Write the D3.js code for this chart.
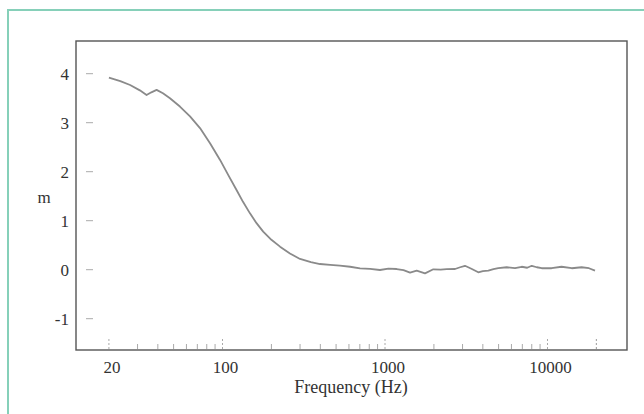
<!DOCTYPE html>
<html>
<head>
<meta charset="utf-8">
<script src="https://cdn.jsdelivr.net/npm/d3@7"></script>
<style>
  body { margin: 0; background: #fff; }
  svg { display: block; }
  text { font-family: "Liberation Serif", "DejaVu Serif", serif; fill: #333; }
</style>
</head>
<body>
<div id="chart"></div>
<script>
const freqs = [20, 23.5, 27, 31, 34.1, 36.5, 39.3, 43, 47.5, 54.7, 63.1, 72.7, 83.8, 96.6, 109, 122, 134,
  147.6, 162, 178, 200, 226, 260, 300, 350, 398, 460, 528, 610, 702, 810, 931, 1050, 1180, 1300, 1426,
  1567, 1763, 1983, 2200, 2396, 2698, 2900, 3106, 3400, 3750, 4000, 4323, 4650, 4980, 5610, 6310, 6940,
  7500, 8000, 8600, 9210, 10600, 12200, 14100, 16200, 18000, 19600];
const values = [3.92, 3.85, 3.77, 3.66, 3.565, 3.62, 3.67, 3.6, 3.5, 3.33, 3.13, 2.89, 2.58, 2.24, 1.92,
  1.627, 1.38, 1.15, 0.95, 0.776, 0.61, 0.47, 0.33, 0.22, 0.155, 0.116, 0.1, 0.082, 0.06, 0.029, 0.015,
  -0.006, 0.02, 0.014, -0.01, -0.06, -0.02, -0.074, 0.008, 0.0, 0.01, 0.014, 0.05, 0.08, 0.02, -0.053,
  -0.03, -0.02, 0.01, 0.03, 0.05, 0.03, 0.06, 0.04, 0.08, 0.05, 0.03, 0.03, 0.06, 0.03, 0.05, 0.03, -0.02];

const yTicks = [-1, 0, 1, 2, 3, 4];
const xTickLabels = [20, 100, 1000, 10000];

const width = 644, height = 414;
const box = { left: 76, top: 41, right: 627, bottom: 350 };

const svg = d3.select("#chart").append("svg")
  .attr("width", width)
  .attr("height", height);

// green frame of the scanned page
svg.append("path")
  .attr("d", `M8,${height} L8,10 L${width},10`)
  .attr("fill", "none")
  .attr("stroke", "#86d0b9")
  .attr("stroke-width", 2);

const x = d3.scaleLog().domain([10, 100000]).range([385 - 2 * 162.5, 385 + 2 * 162.5]);
const y = d3.scaleLinear().domain([0, 4]).range([269.7, 269.7 - 4 * 49]);

// plot box
svg.append("rect")
  .attr("x", box.left).attr("y", box.top)
  .attr("width", box.right - box.left).attr("height", box.bottom - box.top)
  .attr("fill", "none")
  .attr("stroke", "#555")
  .attr("stroke-width", 1.4);

// y ticks: short dashes sitting a bit inside the axis
svg.append("g").selectAll("line")
  .data(yTicks)
  .join("line")
  .attr("x1", 86).attr("x2", 93)
  .attr("y1", (d) => y(d)).attr("y2", (d) => y(d))
  .attr("stroke", "#aaa")
  .attr("stroke-width", 1);

svg.append("g").selectAll("text")
  .data(yTicks)
  .join("text")
  .attr("x", 69)
  .attr("y", (d) => y(d))
  .attr("dy", "0.35em")
  .attr("text-anchor", "end")
  .style("font-size", "17px")
  .text((d) => d);

svg.append("text")
  .attr("x", 44).attr("y", 197)
  .attr("dy", "0.35em")
  .attr("text-anchor", "middle")
  .style("font-size", "17px")
  .text("m");

// x minor / major ticks along the bottom
const minor = [];
for (let dec = 10; dec <= 10000; dec *= 10) {
  for (let k = 1; k < 10; k++) {
    const f = dec * k;
    if (f >= 20 && f <= 20000) minor.push(f);
  }
}
minor.push(20000);
const majors = [20, 100, 1000, 10000, 20000];

svg.append("g").selectAll("line")
  .data(minor)
  .join("line")
  .attr("x1", (d) => x(d)).attr("x2", (d) => x(d))
  .attr("y1", box.bottom - 1)
  .attr("y2", (d) => box.bottom - (majors.includes(d) ? 13 : 6))
  .attr("stroke", "#aaa")
  .attr("stroke-width", 1)
  .attr("stroke-dasharray", (d) => (majors.includes(d) ? "2,2" : null));

svg.append("g").selectAll("text")
  .data(xTickLabels)
  .join("text")
  .attr("x", (d) => x(d) + 3)
  .attr("y", 373)
  .attr("text-anchor", "middle")
  .style("font-size", "17px")
  .text((d) => d);

svg.append("text")
  .attr("x", 351).attr("y", 393)
  .attr("text-anchor", "middle")
  .style("font-size", "18px")
  .text("Frequency (Hz)");

// the curve
const line = d3.line()
  .x((d, i) => x(freqs[i]))
  .y((d) => y(d));

svg.append("path")
  .datum(values)
  .attr("d", line)
  .attr("fill", "none")
  .attr("stroke", "#8a8a8a")
  .attr("stroke-width", 1.8)
  .attr("stroke-linejoin", "round");
</script>
</body>
</html>
